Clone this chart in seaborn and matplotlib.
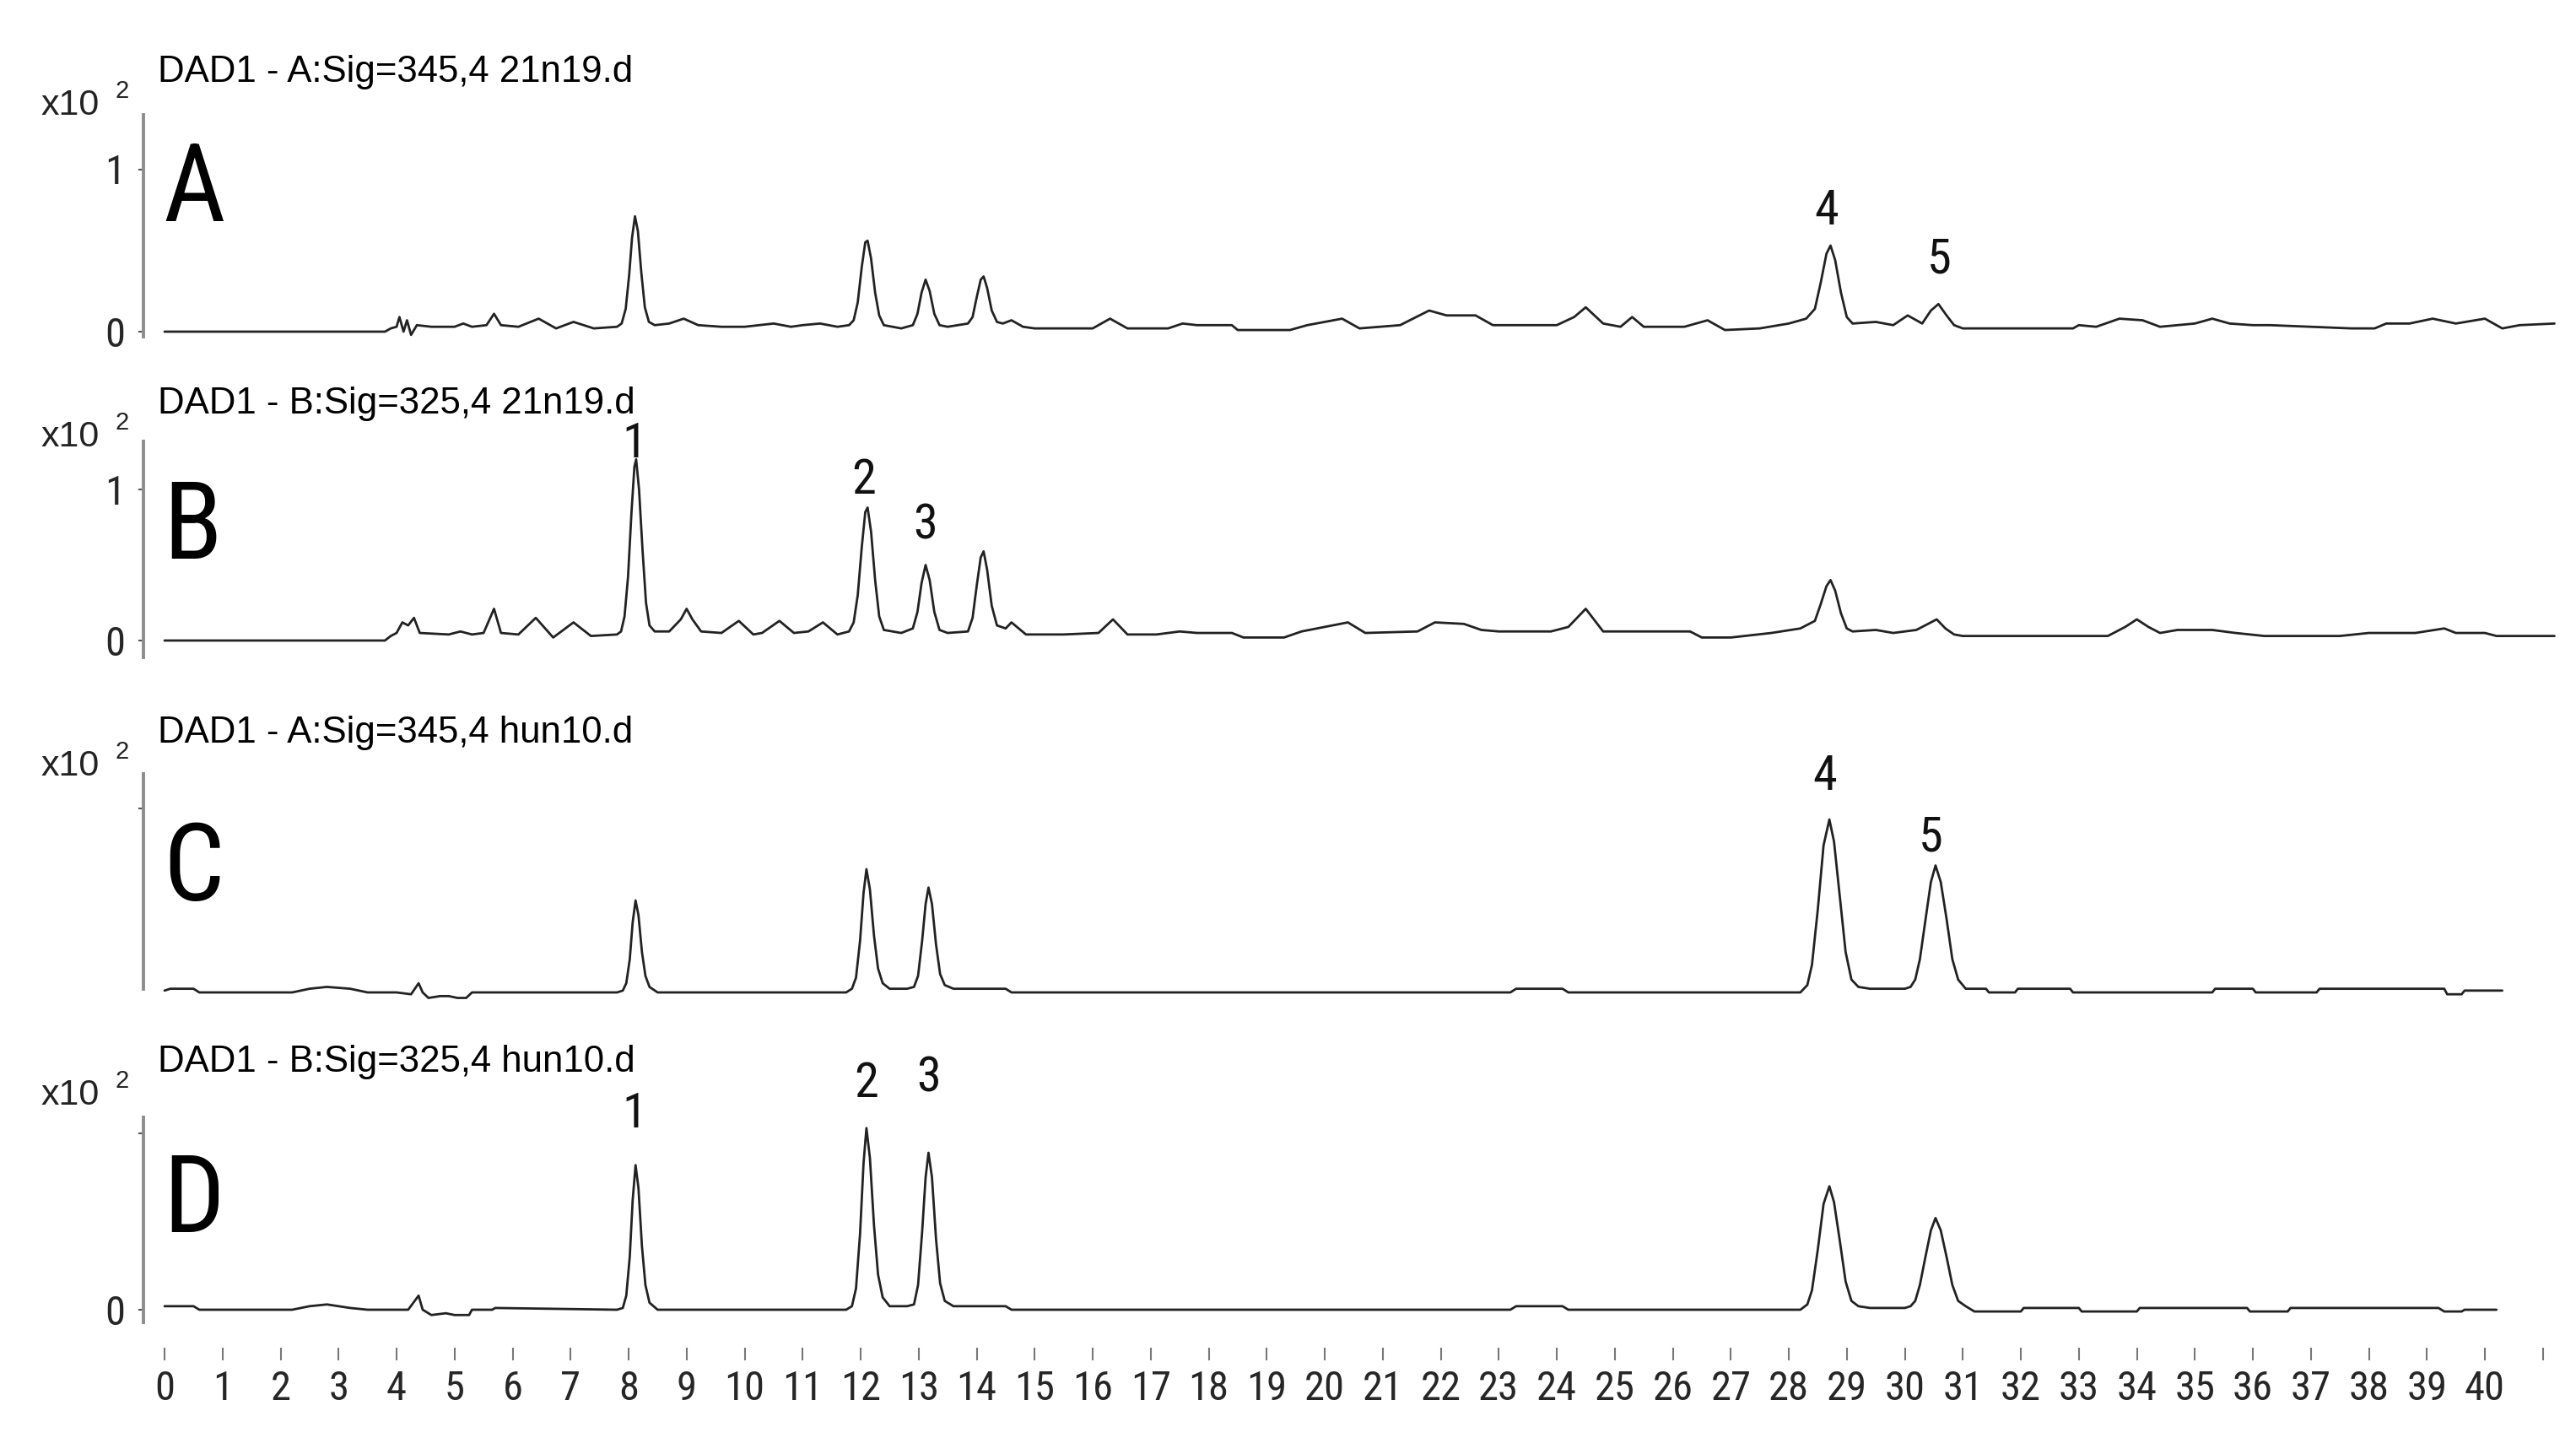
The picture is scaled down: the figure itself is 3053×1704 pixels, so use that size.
# HPLC-DAD chromatograms, four stacked traces (A-D)
import matplotlib
matplotlib.use('Agg')
import matplotlib.pyplot as plt
import matplotlib.font_manager as fm
import pandas as pd
import seaborn as sns

sns.set_style("white")

# pick a narrow sans if one is installed
names = {f.name for f in fm.fontManager.ttflist}
narrow = next((n for n in ['Liberation Sans Narrow', 'Roboto Condensed', 'Open Sans Condensed']
               if n in names), 'DejaVu Sans')
plain = 'Liberation Sans' if 'Liberation Sans' in names else 'DejaVu Sans'
plt.rcParams['font.family'] = [narrow, 'DejaVu Sans']
plt.rcParams['font.stretch'] = 'condensed'

# ------------------------------------------------------------------------------
# DATA (retention time in min, signal in x10^2 units)
# ------------------------------------------------------------------------------
titles = ['DAD1 - A:Sig=345,4 21n19.d', 'DAD1 - B:Sig=325,4 21n19.d',
          'DAD1 - A:Sig=345,4 hun10.d', 'DAD1 - B:Sig=325,4 hun10.d']
panel_letters = ['A', 'B', 'C', 'D']

a_time = [0.0, 3.8, 3.9, 4.0, 4.05, 4.12, 4.18, 4.25, 4.35, 4.6, 5.0, 5.15, 5.3, 5.55, 5.68, 5.8,
          6.1, 6.45, 6.75, 7.05, 7.4, 7.8,
          7.88, 7.95, 8.01, 8.06, 8.11, 8.16, 8.22, 8.28, 8.35, 8.45,
          8.7, 8.95, 9.2, 9.6, 10.0, 10.5, 10.8, 11.0, 11.3, 11.6, 11.8,
          11.88, 11.95, 12.02, 12.08, 12.12, 12.18, 12.25, 12.32, 12.4, 12.7,
          12.9, 12.98, 13.05, 13.12, 13.19, 13.27, 13.36, 13.5, 13.85,
          13.93, 14.0, 14.07, 14.12, 14.18, 14.26, 14.35, 14.45, 14.6, 14.8,
          15.0, 16.0, 16.3, 16.6, 17.3, 17.55, 17.8, 18.4, 18.5, 19.4, 19.7, 20.3, 20.6, 21.3,
          21.8, 22.1, 22.6, 22.9, 24.0, 24.3, 24.5, 24.8, 25.1, 25.3, 25.5, 26.2, 26.6, 26.9,
          27.5, 28.0, 28.3,
          28.45, 28.55, 28.65, 28.72, 28.8, 28.9, 29.0, 29.1,
          29.5, 29.8, 30.05, 30.3, 30.45, 30.58, 30.72, 30.85, 31.0, 32.9, 33.0, 33.3, 33.7,
          34.1, 34.4, 35.0, 35.3, 35.6, 36.0, 36.3, 37.7, 38.1, 38.3, 38.7, 39.1, 39.5, 40.0,
          40.3, 40.6, 41.2]
a_signal = [0.0, 0.0, 0.02, 0.03, 0.09, 0.0, 0.07, -0.02, 0.04, 0.03, 0.03, 0.05, 0.03, 0.04, 0.11,
            0.04, 0.03, 0.08, 0.02, 0.06, 0.02, 0.03,
            0.05, 0.14, 0.35, 0.58, 0.71, 0.62, 0.36, 0.15, 0.06, 0.04,
            0.05, 0.08, 0.04, 0.03, 0.03, 0.05, 0.03, 0.04, 0.05, 0.03, 0.04,
            0.07, 0.18, 0.40, 0.55, 0.56, 0.45, 0.24, 0.10, 0.04, 0.02,
            0.04, 0.11, 0.24, 0.32, 0.25, 0.11, 0.04, 0.03, 0.05,
            0.09, 0.21, 0.32, 0.34, 0.27, 0.13, 0.06, 0.05, 0.07, 0.03,
            0.02, 0.02, 0.08, 0.02, 0.02, 0.05, 0.04, 0.04, 0.01, 0.01, 0.04, 0.08, 0.02, 0.04,
            0.13, 0.10, 0.10, 0.04, 0.04, 0.09, 0.15, 0.05, 0.03, 0.09, 0.03, 0.03, 0.07, 0.01,
            0.02, 0.05, 0.08,
            0.14, 0.30, 0.48, 0.53, 0.44, 0.24, 0.09, 0.05,
            0.06, 0.04, 0.10, 0.05, 0.13, 0.17, 0.10, 0.04, 0.02, 0.02, 0.04, 0.03, 0.08,
            0.07, 0.03, 0.05, 0.08, 0.05, 0.04, 0.04, 0.02, 0.02, 0.05, 0.05, 0.08, 0.05, 0.08,
            0.02, 0.04, 0.05]

b_time = [0.0, 3.8, 3.9, 4.0, 4.1, 4.2, 4.3, 4.4, 4.9, 5.1, 5.3, 5.5, 5.68, 5.8, 6.1, 6.4, 6.7,
          7.05, 7.35, 7.8,
          7.87, 7.93, 7.99, 8.05, 8.1, 8.13, 8.18, 8.24, 8.3, 8.36, 8.45,
          8.7, 8.9, 9.0, 9.1, 9.25, 9.6, 9.9, 10.15, 10.3, 10.6, 10.85, 11.1, 11.35, 11.6, 11.8,
          11.88, 11.95, 12.02, 12.08, 12.12, 12.18, 12.25, 12.32, 12.4, 12.7,
          12.9, 12.98, 13.05, 13.12, 13.19, 13.27, 13.36, 13.5, 13.85,
          13.93, 14.0, 14.07, 14.12, 14.18, 14.26, 14.35, 14.5, 14.6, 14.85,
          15.5, 16.1, 16.35, 16.6, 17.1, 17.5, 17.8, 18.4, 18.6, 19.3, 19.6, 20.4, 20.7, 21.6,
          21.9, 22.4, 22.7, 23.0, 23.9, 24.2, 24.5, 24.8, 26.3, 26.5, 27.0, 27.7, 28.2,
          28.45, 28.55, 28.65, 28.72, 28.8, 28.9, 29.0, 29.1,
          29.5, 29.8, 30.2, 30.4, 30.55, 30.7, 30.85, 31.0, 33.5, 33.8, 34.0, 34.2, 34.4, 34.7,
          35.3, 35.7, 36.2, 37.5, 38.0, 38.8, 39.3, 39.5, 40.0, 40.2, 41.2]
b_signal = [0.0, 0.0, 0.03, 0.05, 0.12, 0.10, 0.15, 0.05, 0.04, 0.06, 0.04, 0.05, 0.21, 0.05, 0.04,
            0.15, 0.02, 0.12, 0.03, 0.04,
            0.06, 0.16, 0.42, 0.85, 1.15, 1.20, 1.00, 0.60, 0.25, 0.10, 0.06,
            0.06, 0.14, 0.21, 0.14, 0.06, 0.05, 0.13, 0.04, 0.05, 0.13, 0.05, 0.06, 0.12, 0.04,
            0.06,
            0.12, 0.30, 0.62, 0.85, 0.88, 0.72, 0.40, 0.16, 0.07, 0.05,
            0.08, 0.19, 0.38, 0.50, 0.40, 0.19, 0.07, 0.05, 0.06,
            0.15, 0.36, 0.55, 0.59, 0.47, 0.23, 0.10, 0.08, 0.12, 0.04,
            0.04, 0.05, 0.14, 0.04, 0.04, 0.06, 0.05, 0.05, 0.02, 0.02, 0.06, 0.12, 0.05, 0.06,
            0.12, 0.11, 0.07, 0.06, 0.06, 0.09, 0.21, 0.06, 0.06, 0.02, 0.02, 0.05, 0.08,
            0.13, 0.24, 0.36, 0.40, 0.33, 0.18, 0.08, 0.06,
            0.07, 0.05, 0.07, 0.11, 0.14, 0.08, 0.04, 0.03, 0.03, 0.09, 0.14, 0.09, 0.05, 0.07,
            0.07, 0.05, 0.03, 0.03, 0.05, 0.05, 0.08, 0.05, 0.05, 0.03, 0.03]

c_time = [0.0, 0.1, 0.5, 0.6, 2.2, 2.5, 2.8, 3.2, 3.5, 4.0, 4.25, 4.38, 4.45, 4.55, 4.75, 4.9,
          5.05, 5.2, 5.3, 7.8,
          7.9, 7.96, 8.02, 8.07, 8.12, 8.17, 8.23, 8.29, 8.36, 8.5, 11.75,
          11.85, 11.92, 11.99, 12.05, 12.1, 12.16, 12.23, 12.3, 12.38, 12.5, 12.8,
          12.92, 12.99, 13.06, 13.12, 13.17, 13.23, 13.3, 13.37, 13.45, 13.6,
          14.5, 14.6, 23.2, 23.3, 24.1, 24.2, 28.2,
          28.32, 28.4, 28.5, 28.6, 28.7, 28.78, 28.88, 28.98, 29.08, 29.2, 29.4, 30.0,
          30.1, 30.18, 30.26, 30.35, 30.45, 30.53, 30.62, 30.72, 30.82, 30.92, 31.05,
          31.4, 31.45, 31.9, 31.95, 32.85, 32.9, 35.3, 35.35, 36.0, 36.05, 37.1, 37.15, 39.3,
          39.35, 39.6, 39.65, 40.3]
c_signal = [0.01, 0.02, 0.02, 0.0, 0.0, 0.02, 0.03, 0.02, 0.0, 0.0, -0.01, 0.05, 0.0, -0.03,
            -0.02, -0.02, -0.03, -0.03, 0.0, 0.0,
            0.01, 0.05, 0.18, 0.38, 0.50, 0.42, 0.22, 0.09, 0.03, 0.0, 0.0,
            0.02, 0.08, 0.28, 0.54, 0.67, 0.56, 0.31, 0.13, 0.05, 0.02, 0.02,
            0.03, 0.09, 0.28, 0.48, 0.57, 0.48, 0.26, 0.10, 0.04, 0.02,
            0.02, 0.0, 0.0, 0.02, 0.02, 0.0, 0.0,
            0.04, 0.15, 0.45, 0.80, 0.94, 0.82, 0.52, 0.22, 0.07, 0.03, 0.02, 0.02,
            0.03, 0.07, 0.18, 0.38, 0.60, 0.69, 0.60, 0.40, 0.18, 0.07, 0.02,
            0.02, 0.0, 0.0, 0.02, 0.02, 0.0, 0.0, 0.02, 0.02, 0.0, 0.0, 0.02, 0.02,
            -0.01, -0.01, 0.01, 0.01]

d_time = [0.0, 0.5, 0.6, 2.2, 2.5, 2.8, 3.2, 3.5, 4.2, 4.38, 4.45, 4.6, 4.85, 5.0, 5.25, 5.3,
          5.65, 5.7, 7.8,
          7.9, 7.96, 8.02, 8.07, 8.12, 8.17, 8.23, 8.29, 8.36, 8.5, 11.75,
          11.85, 11.92, 11.99, 12.05, 12.1, 12.16, 12.23, 12.3, 12.38, 12.5, 12.8,
          12.92, 12.99, 13.06, 13.12, 13.17, 13.23, 13.3, 13.37, 13.45, 13.6,
          14.5, 14.6, 23.2, 23.3, 24.1, 24.2, 28.2,
          28.32, 28.4, 28.5, 28.6, 28.7, 28.78, 28.88, 28.98, 29.08, 29.2, 29.4, 30.0,
          30.1, 30.18, 30.26, 30.35, 30.45, 30.53, 30.62, 30.72, 30.82, 30.92, 31.05,
          31.2, 32.0, 32.05, 33.0, 33.05, 34.0, 34.05, 35.9, 35.95, 36.6, 36.65, 39.2, 39.3,
          39.6, 39.65, 40.2]
d_signal = [0.02, 0.02, 0.0, 0.0, 0.02, 0.03, 0.01, 0.0, 0.0, 0.08, 0.0, -0.03, -0.02, -0.03,
            -0.03, 0.0, 0.0, 0.01, 0.0,
            0.01, 0.08, 0.30, 0.62, 0.82, 0.69, 0.36, 0.14, 0.04, 0.0, 0.0,
            0.02, 0.12, 0.43, 0.83, 1.03, 0.86, 0.48, 0.20, 0.07, 0.02, 0.02,
            0.03, 0.14, 0.44, 0.75, 0.89, 0.75, 0.40, 0.15, 0.05, 0.02,
            0.02, 0.0, 0.0, 0.02, 0.02, 0.0, 0.0,
            0.03, 0.11, 0.34, 0.60, 0.70, 0.61, 0.39, 0.16, 0.05, 0.02, 0.01, 0.01,
            0.02, 0.05, 0.14, 0.29, 0.45, 0.52, 0.45, 0.30, 0.14, 0.05, 0.02,
            -0.01, -0.01, 0.01, 0.01, -0.01, -0.01, 0.01, 0.01, -0.01, -0.01, 0.01, 0.01, -0.01,
            -0.01, 0.0, 0.0]

# numbered peaks
a_peak_labels, a_peak_times = ['4', '5'], [28.65, 30.6]
b_peak_labels, b_peak_times = ['1', '2', '3'], [8.1, 12.05, 13.12]
c_peak_labels, c_peak_times = ['4', '5'], [28.62, 30.45]
d_peak_labels, d_peak_times = ['1', '2', '3'], [8.1, 12.1, 13.17]

x_ticks = list(range(0, 42))
x_tick_labels = [str(t) for t in range(0, 41)] + ['']

traces = [(a_time, a_signal), (b_time, b_signal), (c_time, c_signal), (d_time, d_signal)]
peaks = [(a_peak_labels, a_peak_times), (b_peak_labels, b_peak_times),
         (c_peak_labels, c_peak_times), (d_peak_labels, d_peak_times)]

# ------------------------------------------------------------------------------
# LAYOUT (pixel geometry of the 3053x1704 canvas)
# ------------------------------------------------------------------------------
W, H = 3053, 1704
SPINE_X = 170
PX_PER_MIN = 68.75
ZERO_X = 195

# top, bottom, y of zero, px per unit
bands = [(60, 420, 393, 192.5), (430, 790, 759, 179), (830, 1195, 1176, 218), (1225, 1597, 1552, 209)]
spine_bounds = [(-0.03, 1.335), (-0.11, 1.32), (0.02, 1.19), (-0.07, 1.09)]
y_ticks = [[0, 1], [0, 1], [1], [0, 1]]
y_tick_labels = [['0', '1'], ['0', '1'], [''], ['0', '']]
title_base = [97, 490, 880, 1270]
letter_base = [262, 662, 1067, 1460]
label_y = [[0.74, 0.44], [1.30, 1.06, 0.76], [1.17, 0.84], [1.11, 1.28, 1.31]]

x_left = (SPINE_X - ZERO_X) / PX_PER_MIN
x_right = x_left + (W - 5 - SPINE_X) / PX_PER_MIN

fig = plt.figure(figsize=(W / 100, H / 100), dpi=100)
fig.patch.set_facecolor('white')

line_color = '#222222'
axis_gray = '#8c8c8c'

for i in range(4):
    top, bottom, zero, unit = bands[i]
    ax = fig.add_axes([SPINE_X / W, 1 - bottom / H, (W - 5 - SPINE_X) / W, (bottom - top) / H])
    ax.set_facecolor('none')
    df = pd.DataFrame({'time': traces[i][0], 'signal': traces[i][1]})
    sns.lineplot(data=df, x='time', y='signal', ax=ax, color=line_color, linewidth=2.0,
                 estimator=None, sort=False)
    ax.set_xlim(x_left, x_right)
    ax.set_ylim(-(bottom - zero) / unit, (zero - top) / unit)
    ax.set_xlabel('')
    ax.set_ylabel('')

    for s in ['top', 'right', 'bottom']:
        ax.spines[s].set_visible(False)
    ax.spines['left'].set_color(axis_gray)
    ax.spines['left'].set_linewidth(2.8)
    ax.spines['left'].set_bounds(*spine_bounds[i])

    ax.set_yticks(y_ticks[i])
    ax.set_yticklabels(y_tick_labels[i])
    ax.tick_params(axis='y', length=4, width=1.5, color='#555555', pad=12, labelsize=35,
                   direction='out', left=True)

    if i < 3:
        ax.set_xticks([])
    else:
        ax.set_xticks(x_ticks)
        ax.set_xticklabels(x_tick_labels)
        ax.tick_params(axis='x', length=11, width=1.5, color='#777777', pad=8, labelsize=35,
                       direction='out', bottom=True)

    # peak numbers
    for lab, t, yl in zip(peaks[i][0], peaks[i][1], label_y[i]):
        ax.text(t, yl, lab, ha='center', va='center', fontsize=42, color='#111111')

    # panel letter
    fig.text((ZERO_X - 2) / W, 1 - letter_base[i] / H, panel_letters[i], fontsize=92,
             ha='left', va='baseline', color='black')

    # titles and scale marks
    fig.text(187 / W, 1 - title_base[i] / H, titles[i], fontsize=31.5, ha='left',
             va='baseline', color='black', family=[plain, 'DejaVu Sans'], fontstretch='normal')
    fig.text(49 / W, 1 - (title_base[i] + 39) / H, 'x10', fontsize=31, ha='left',
             va='baseline', color='#222222', family=[plain, 'DejaVu Sans'], fontstretch='normal')
    fig.text(136 / W, 1 - (title_base[i] + 19) / H, '2', fontsize=21, ha='left',
             va='baseline', color='#222222', family=[plain, 'DejaVu Sans'], fontstretch='normal')

fig.savefig('out.png', dpi=100, facecolor='white')
